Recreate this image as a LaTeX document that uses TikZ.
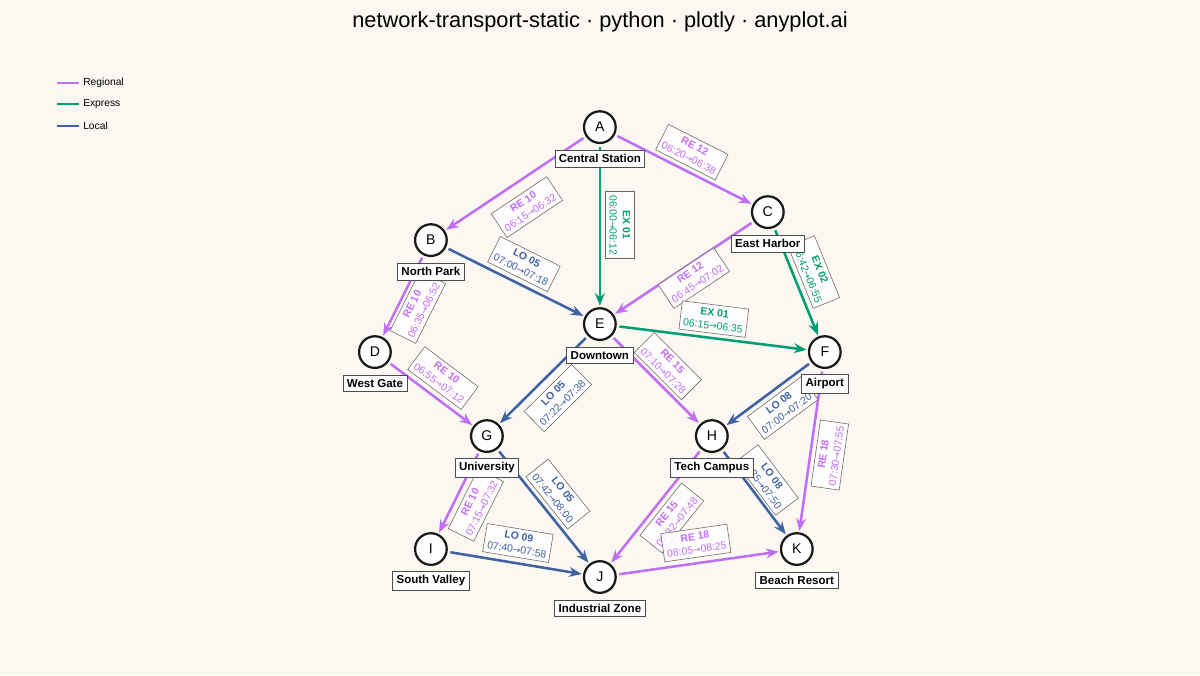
\documentclass[tikz,border=0pt]{standalone}
\usepackage{fontspec}
\setmainfont{Liberation Sans}
\newfontfamily\dejavu{DejaVu Sans}
\usetikzlibrary{arrows.meta}
\definecolor{bg}{HTML}{FAF8F1}
\definecolor{reg}{HTML}{C06EF5}
\definecolor{exp}{HTML}{009E73}
\definecolor{loc}{HTML}{4061A3}
\tikzset{
 st/.style={circle,draw=black!90,line width=1.6pt,fill=white,minimum size=22.5pt,inner sep=0pt,font=\rmfamily\fontsize{10}{10}\selectfont},
 nm/.style={draw=black!70,line width=0.5pt,fill=white,inner sep=2.8pt,font=\bfseries\fontsize{8.2}{9}\selectfont},
 ed/.style={line width=1.8pt,-{Stealth[length=9pt,width=7pt]},shorten >=1pt,shorten <=2pt},
 R/.style={ed,reg}, X/.style={ed,exp}, L/.style={ed,loc},
 lb/.style={draw=black!60,line width=0.4pt,fill=white,fill opacity=0.85,text opacity=1,align=center,inner xsep=2.5pt,inner ysep=2.8pt,font=\fontsize{7.4}{9.4}\selectfont}
}
\newcommand{\elab}[6]{\node[lb,rotate=#3,text=#4] at (#1*0.025,{(675-#2)*0.025}) {\textbf{#5}\\#6};}
\newcommand{\ar}{{\dejavu\fontsize{6.5}{8}\selectfont →}}
\begin{document}
\begin{tikzpicture}
\fill[bg] (0,0) rectangle (30,16.875);
\useasboundingbox (0,0) rectangle (30,16.875);
\node[font=\fontsize{15.5}{16}\selectfont] at (15,{(675-22)*0.025}) {network-transport-static · python · plotly · anyplot.ai};
% legend
\foreach \c/\t/\y in {reg/Regional/83,exp/Express/104,loc/Local/126}{
 \draw[\c,line width=1.8pt] (57*0.025,{(675-\y)*0.025}) -- (79*0.025,{(675-\y)*0.025});
 \node[anchor=west,inner sep=0,font=\fontsize{7.3}{8}\selectfont] at (83*0.025,{(675-\y)*0.025}) {\t};
}
% stations
\foreach \n/\x/\y in {A/600/127,B/431/240,C/768/212,D/375/352,E/600/324,F/825/352,G/487/436,H/712/436,I/431/549,J/600/577,K/797/549}{
 \node[st] (\n) at (\x*0.025,{(675-\y)*0.025}) {\n};
}
% edges
\draw[R] (A) -- (B);
\draw[R] (A) -- (C);
\draw[X] (A) -- (E);
\draw[L] (B) -- (E);
\draw[R] (B) -- (D);
\draw[R] (C) -- (E);
\draw[X] (C) -- (F);
\draw[X] (E) -- (F);
\draw[L] (E) -- (G);
\draw[R] (E) -- (H);
\draw[R] (D) -- (G);
\draw[L] (F) -- (H);
\draw[R] (F) -- (K);
\draw[R] (G) -- (I);
\draw[L] (G) -- (J);
\draw[R] (H) -- (J);
\draw[L] (H) -- (K);
\draw[L] (I) -- (J);
\draw[R] (J) -- (K);
% edge labels
\elab{527}{207}{33.8}{reg}{RE 10}{06:15\ar06:32}
\elab{692}{152}{-26.8}{reg}{RE 12}{06:20\ar06:38}
\elab{620}{225}{-90}{exp}{EX 01}{06:00\ar06:12}
\elab{524}{264}{-26.4}{loc}{LO 05}{07:00\ar07:18}
\elab{418}{307}{63.4}{reg}{RE 10}{06:35\ar06:52}
\elab{694}{278}{33.7}{reg}{RE 12}{06:45\ar07:02}
\elab{814}{272}{-67.8}{exp}{EX 02}{06:42\ar06:55}
\elab{714}{319}{-7.1}{exp}{EX 01}{06:15\ar06:35}
\elab{558}{398}{44.7}{loc}{LO 05}{07:22\ar07:38}
\elab{668}{366}{-45}{reg}{RE 15}{07:10\ar07:28}
\elab{443}{378}{-36.9}{reg}{RE 10}{06:55\ar07:12}
\elab{783}{408}{36.6}{loc}{LO 08}{07:00\ar07:20}
\elab{830}{455}{81.9}{reg}{RE 18}{07:30\ar07:55}
\elab{476}{505}{63.6}{reg}{RE 10}{07:15\ar07:32}
\elab{558}{494}{-51.3}{loc}{LO 05}{07:42\ar08:00}
\elab{672}{518}{51.5}{reg}{RE 15}{07:32\ar07:48}
\elab{767}{480}{-53}{loc}{LO 08}{07:25\ar07:50}
\elab{518}{543}{-9.4}{loc}{LO 09}{07:40\ar07:58}
\elab{696}{543}{8.1}{reg}{RE 18}{08:05\ar08:25}
% station names
\foreach \n/\t in {A/Central Station,B/North Park,C/East Harbor,D/West Gate,E/Downtown,F/Airport,G/University,H/Tech Campus,I/South Valley,J/Industrial Zone,K/Beach Resort}{
 \node[nm] (\n l) at ([yshift=-22.5pt]\n.center) {\t};
}
\end{tikzpicture}
\end{document}
